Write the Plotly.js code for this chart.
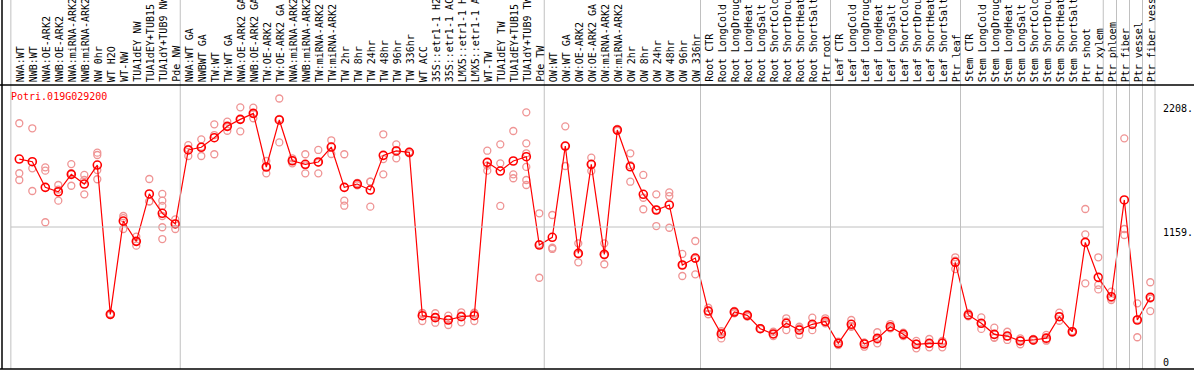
<!DOCTYPE html>
<html><head><meta charset="utf-8">
<script src="https://cdn.plot.ly/plotly-3.0.1.min.js"></script>
<style>html,body{margin:0;padding:0;background:#fff;overflow:hidden}#chart{width:1194px;height:370px}</style>
</head><body><div id="chart"></div>
<script>
const geneName = "Potri.019G029200";
const sampleLabels = [
"NWA:WT","NWB:WT","NWA:OE-ARK2","NWB:OE-ARK2","NWA:miRNA-ARK2","NWB:miRNA-ARK2","NW 0hr","WT H2O","WT-NW","TUA1dEY NW","TUA1dEY+TUB15","TUA1dY+TUB9 NW","Pde NW",
"NWA:WT GA","NWBWT GA","TW:WT","TW:WT GA","NWA:OE-ARK2 GA","NWB:OE-ARK2 GA","TW:OE-ARK2","TW:OE-ARK2 GA","NWA:miRNA-ARK2","NWB:miRNA-ARK2","TW:miRNA-ARK2","TW:miRNA-ARK2",
"TW 2hr","TW 8hr","TW 24hr","TW 48hr","TW 96hr","TW 336hr","WT ACC","35S::etr1-1 H2","35S::etr1-1 AC","LMX5::etr1-1 H","LMX5::etr1-1 A","WT-TW","TUA1dEY TW","TUA1dEY+TUB15","TUA1dY+TUB9 TW","Pde TW",
"OW:WT","OW:WT GA","OW:OE-ARK2","OW:OE-ARK2 GA","OW:miRNA-ARK2","OW:miRNA-ARK2","OW 2hr","OW 8hr","OW 24hr","OW 48hr","OW 96hr","OW 336hr",
"Root CTR","Root LongCold","Root LongDroug","Root LongHeat","Root LongSalt","Root ShortCold","Root ShortDrou","Root ShortHeat","Root ShortSalt","Ptr root",
"Leaf CTR","Leaf LongCold","Leaf LongDroug","Leaf LongHeat","Leaf LongSalt","Leaf ShortCold","Leaf ShortDrou","Leaf ShortHeat","Leaf ShortSalt","Ptr leaf",
"Stem CTR","Stem LongCold","Stem LongDroug","Stem LongHeat","Stem LongSalt","Stem ShortCold","Stem ShortDrou","Stem ShortHeat","Stem ShortSalt","Ptr shoot",
"Ptr xylem","Ptr phloem","Ptr fiber","Ptr vessel","Ptr fiber vess"
];
const meanValues = [
1714,1692,1483,1447,1589,1510,1665,446,1208,1042,1429,1271,1184,
1788,1810,1888,1981,2038,2087,1649,2033,1700,1671,1690,1812,
1483,1510,1461,1744,1780,1769,435,419,400,427,435,1687,1616,1698,1733,1012,
1075,1820,944,1671,936,1951,1651,1426,1298,1339,849,906,
473,286,465,438,329,286,373,318,365,389,
210,365,204,250,345,283,202,210,210,871,
441,373,283,269,229,237,252,427,304,1034,
748,590,1380,400,585
];
const replicateValues = [
[2006,1598,1543],[1965,1638,1453],[1646,1619,1198],[1502,1374,1465],[1673,1496,1598],[1584,1543,1426],[1766,1747,1624,1549],[452,440,446],[1249,1143,1232],[1080,1007,1040],[1551,1366,1370],[1429,1374,1331,1249,1157,1061],[1222,1143,1187],
[1828,1739,1797],[1875,1739,1815],[1997,1910,1753],[2019,1945,1979],[2136,1940,2038],[2133,2047,2082],[1698,1597,1651],[2208,1850,2041],[1720,1679,1702],[1753,1597,1663],[1788,1597,1685],[1867,1755,1815],
[1753,1374,1333],[1520,1500,1512],[1529,1325,1530],[1916,1714,1589],[1834,1720,1786],[1775,1760,1770],[455,392,458],[455,378,424],[435,359,406],[463,381,437],[460,392,453],[1782,1619,1660],[1834,1679,1331],[1943,1589,1557],[2095,1842,1761,1650,1543,1502],[1271,745,1020],
[1257,990,980],[1981,1657,1822],[1026,871,936],[1725,1616,1672],[1026,855,928],[1960,1945,1948],[1761,1529,1664],[1584,1398,1304],[1426,1167,1300],[1442,1412,1153],[939,759,849],[1045,773,900],
[500,447,473],[250,310,297],[475,455,465],[447,427,440],[333,325,330],[269,304,285],[414,318,387],[345,278,331],[419,359,317],[414,373,380],
[223,196,211],[400,345,350],[182,215,215],[300,210,241],[367,332,337],[296,269,285],[229,169,207],[245,177,207],[223,177,229],[912,816,884],
[455,430,438],[422,327,370],[337,255,258],[304,237,267],[250,202,234],[245,230,236],[278,231,241],[460,394,427],[310,298,305],[1306,1099,699],
[912,686,650],[631,563,576],[1883,1143,1094],[536,259,405],[708,473,574]
];
const yTickVals = [2208, 1159, 0];
const yTickText = ["2208.", "1159.", "0"];
const yTickShift = [-10, -5, 7];
const groupBreaks = [0.35, 13.38, 41.38, 53.4, 63.4, 73.4, 84.38, 85.4, 86.4, 87.4];
const yMax = 2318.4;

const W = 1194, H = 370, mL = 2, mR = 39, mT = 85, mB = 1;
const plotW = W - mL - mR, plotH = H - mT - mB;
const xs = sampleLabels.map((_, i) => i + 1);

const repX = [], repY = [];
replicateValues.forEach((arr, i) => arr.forEach(v => { repX.push(i + 1); repY.push(v); }));

const traces = [
  {x: repX, y: repY, type: 'scatter', mode: 'markers', hoverinfo: 'skip',
   marker: {symbol: 'circle-open', size: 7, color: '#ef9494', line: {width: 1.3, color: '#ef9494'}}},
  {x: xs, y: meanValues, type: 'scatter', mode: 'lines+markers',
   line: {color: '#ff0000', width: 1.2},
   marker: {symbol: 'circle-open', size: 8, color: '#ff0000', line: {width: 1.6, color: '#ff0000'}}}
];

const headerTop = 1 + mT / plotH;
const shapes = [];
groupBreaks.forEach(b => shapes.push({type: 'line', xref: 'x', yref: 'paper', x0: b, x1: b, y0: 0, y1: headerTop, line: {color: '#c0c0c0', width: 1}}));
shapes.push({type: 'line', xref: 'paper', yref: 'paper', x0: 1, x1: 1, y0: 0, y1: headerTop, line: {color: '#c0c0c0', width: 1}});
shapes.push({type: 'line', xref: 'x', yref: 'y', x0: groupBreaks[0], x1: groupBreaks[6], y0: yMax / 2, y1: yMax / 2, line: {color: '#c0c0c0', width: 1}});
shapes.push({type: 'line', xref: 'paper', yref: 'paper', x0: -mL / plotW, x1: 1 + mR / plotW, y0: 1, y1: 1, line: {color: '#000', width: 1.5}});
shapes.push({type: 'line', xref: 'paper', yref: 'paper', x0: -mL / plotW, x1: 1 + mR / plotW, y0: 0, y1: 0, line: {color: '#000', width: 1.5}});
shapes.push({type: 'line', xref: 'paper', yref: 'paper', x0: 0, x1: 0, y0: 0, y1: headerTop, line: {color: '#000', width: 1.5}});

const mono = 'DejaVu Sans Mono, Liberation Mono, monospace';
const annotations = [];
sampleLabels.forEach((t, i) => annotations.push({
  xref: 'x', yref: 'paper', x: i + 1, y: 1, xanchor: 'center', yanchor: 'bottom',
  textangle: -90, text: t, showarrow: false, xshift: 1, yshift: 1,
  font: {family: mono, size: 10, color: '#000'}
}));
annotations.push({xref: 'paper', yref: 'paper', x: 7 / plotW, y: (plotH - (96.7 - mT)) / plotH, xanchor: 'left', yanchor: 'middle',
  text: geneName, showarrow: false, font: {family: mono, size: 10, color: '#ff0000'}});
yTickVals.forEach((v, k) => annotations.push({
  xref: 'paper', yref: 'y', x: 1 + 6 / plotW, y: v, xanchor: 'left', yanchor: 'middle',
  yshift: yTickShift[k], text: yTickText[k], showarrow: false,
  font: {family: mono, size: 10, color: '#000'}
}));

const layout = {
  width: W, height: H,
  margin: {l: mL, r: mR, t: mT, b: mB, pad: 0},
  paper_bgcolor: '#fff', plot_bgcolor: '#fff',
  showlegend: false,
  xaxis: {range: [(mL - 6.3) / 13, (mL + plotW - 6.3) / 13], showgrid: false, zeroline: false, showticklabels: false, ticks: '', showline: false, fixedrange: true},
  yaxis: {range: [0, yMax], showgrid: false, zeroline: false, showticklabels: false, ticks: '', showline: false, fixedrange: true},
  shapes: shapes,
  annotations: annotations
};
Plotly.newPlot('chart', traces, layout, {displayModeBar: false, staticPlot: true});
</script>
</body></html>
